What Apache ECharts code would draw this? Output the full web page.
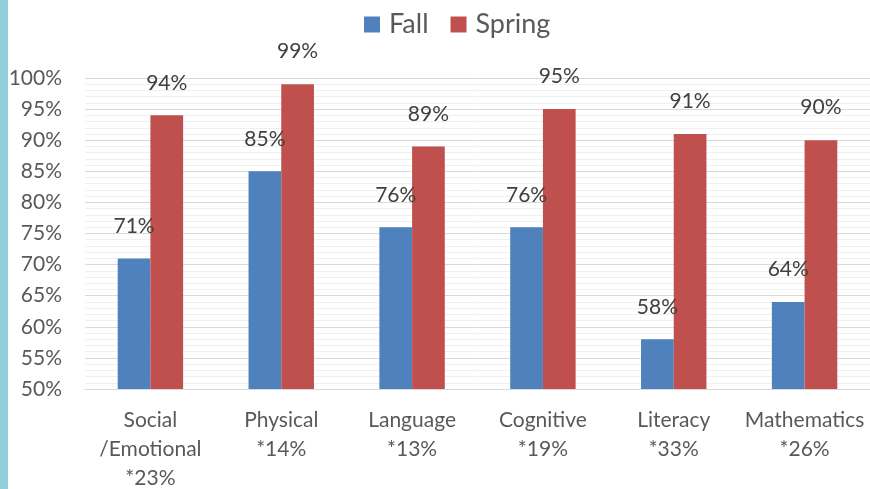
<!DOCTYPE html>
<html>
<head>
<meta charset="utf-8">
<script src="https://cdn.jsdelivr.net/npm/echarts@6/dist/echarts.min.js"></script>
<style>
  html, body { margin: 0; padding: 0; background: #fff; }
  #chart { width: 870px; height: 489px; }
</style>
</head>
<body>
<div id="chart"></div>
<script>
const categories = ['Social\n/Emotional', 'Physical', 'Language', 'Cognitive', 'Literacy', 'Mathematics']
const growth = ['*23%', '*14%', '*13%', '*19%', '*33%', '*26%']
const fall = [71, 85, 76, 76, 58, 64]
const spring = [94, 99, 89, 95, 91, 90]

const FONT = 'Lato'
const labels = categories.map((c, i) => c + '\n' + growth[i])

const chart = echarts.init(document.getElementById('chart'), null, { renderer: 'canvas' })

// 标签样式
const valueLabel = {
  show: true,
  position: 'top',
  distance: 22,
  formatter: '{c}%',
  color: '#404040',
  fontFamily: FONT,
  fontSize: 21
}

chart.setOption({
  animation: false,
  textStyle: { fontFamily: FONT },
  graphic: [
    { type: 'rect', left: 0, top: 0, shape: { width: 8, height: 489 }, style: { fill: '#92cddc' } }
  ],
  legend: {
    top: 6,
    left: 359,
    itemWidth: 16,
    itemHeight: 16,
    itemGap: 22,
    icon: 'rect',
    textStyle: { color: '#595959', fontSize: 27, fontFamily: FONT, padding: [0, 0, 0, 4] },
    data: ['Fall', 'Spring']
  },
  grid: {
    left: 85,
    right: 0,
    top: 78,
    bottom: 100,
    containLabel: false,
    outerBoundsMode: 'none'
  },
  xAxis: {
    type: 'category',
    data: labels,
    axisTick: { show: false },
    axisLine: { lineStyle: { color: '#d9d9d9', width: 1 } },
    axisLabel: {
      color: '#595959',
      fontSize: 21,
      lineHeight: 29,
      margin: 17,
      interval: 0
    }
  },
  yAxis: {
    type: 'value',
    min: 50,
    max: 100,
    interval: 5,
    axisLine: { show: false },
    axisTick: { show: false },
    axisLabel: {
      formatter: '{value}%',
      color: '#595959',
      fontSize: 21,
      margin: 23
    },
    splitLine: { lineStyle: { color: '#d9d9d9', width: 1 } },
    minorTick: { show: false, splitNumber: 5 },
    minorSplitLine: { show: true, lineStyle: { color: '#f0f0f0', width: 1 } }
  },
  series: [
    {
      name: 'Fall',
      type: 'bar',
      data: fall,
      barGap: '0%',
      barCategoryGap: '50%',
      itemStyle: { color: '#4f81bd' },
      label: valueLabel
    },
    {
      name: 'Spring',
      type: 'bar',
      data: spring,
      itemStyle: { color: '#c0504d' },
      label: valueLabel
    }
  ]
})
</script>
</body>
</html>
